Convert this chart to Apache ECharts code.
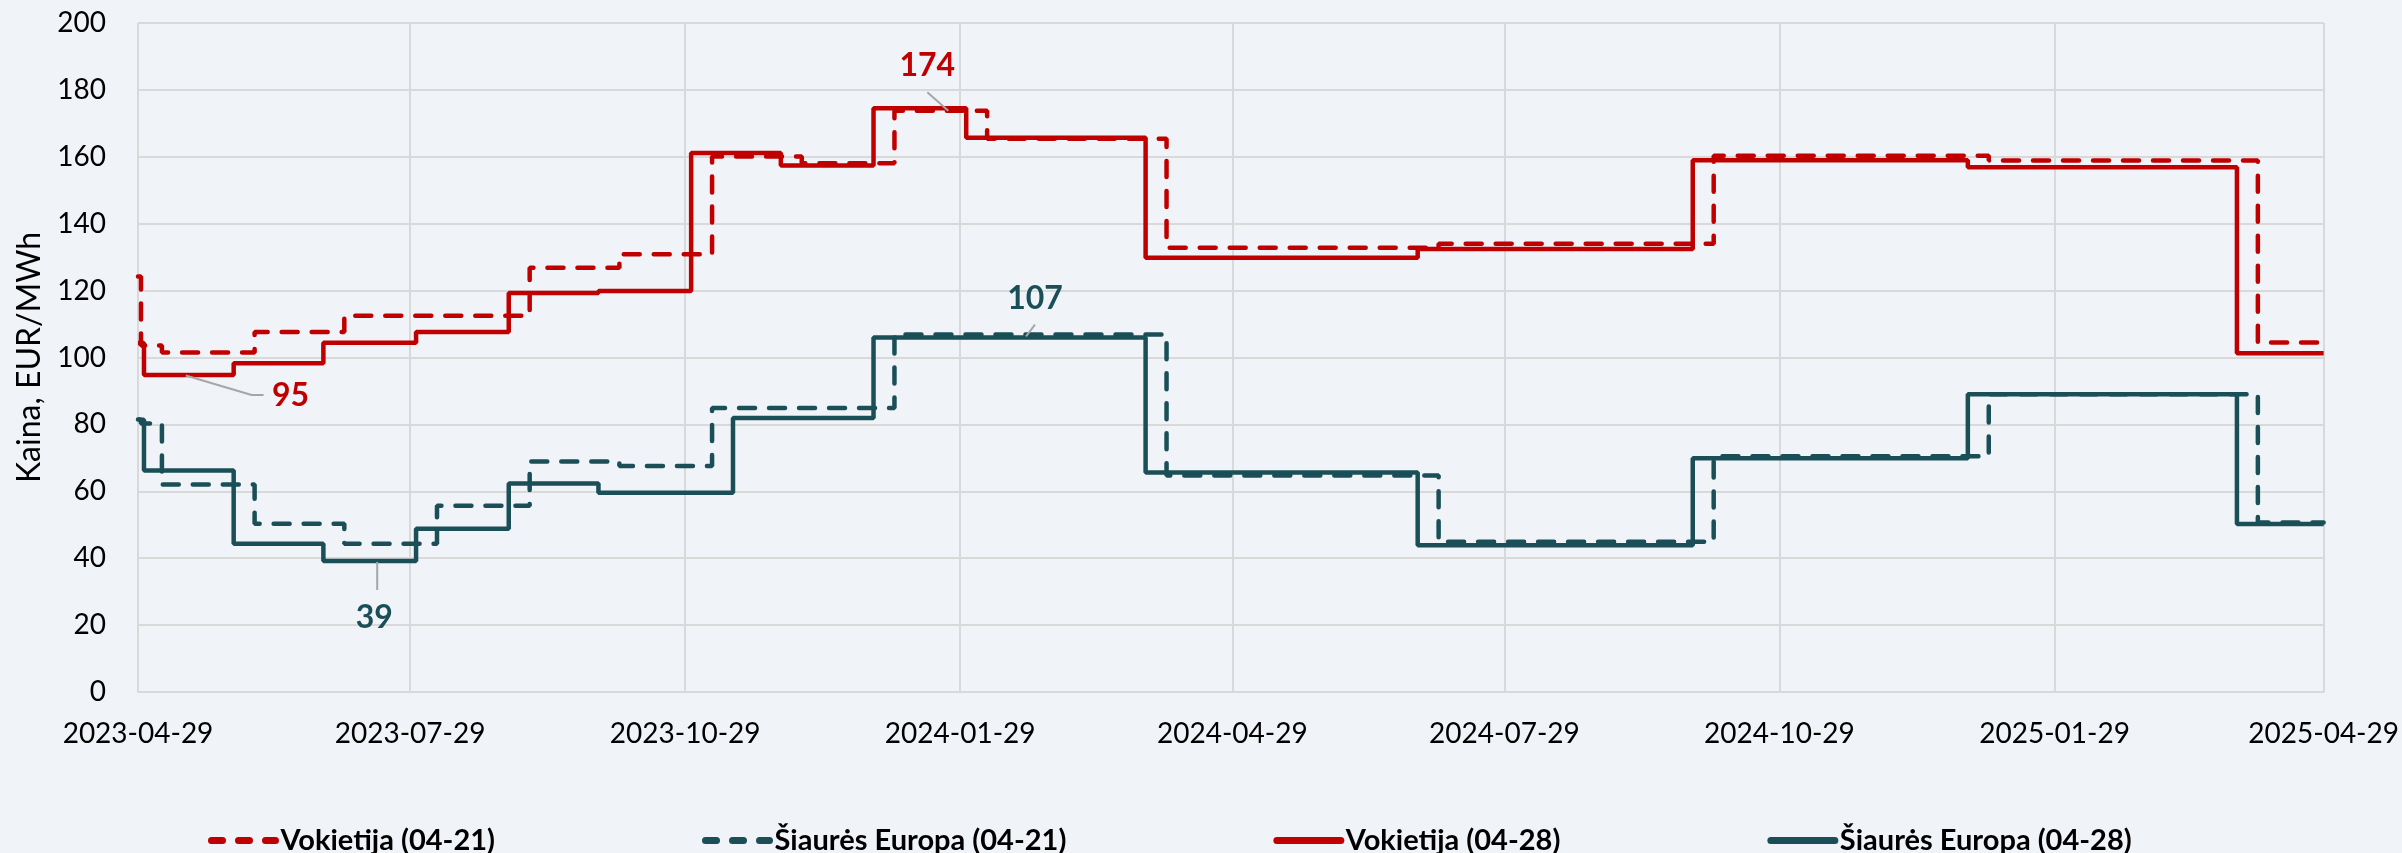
<!DOCTYPE html>
<html>
<head>
<meta charset="utf-8">
<script src="https://cdn.jsdelivr.net/npm/echarts@6/dist/echarts.min.js"></script>
<style>
    html, body { margin: 0; padding: 0; background: #f0f3f7; }
    #chart { width: 2402px; height: 853px; }
</style>
</head>
<body>
<div id="chart"></div>
<script>
// x ticks (every 3 months)
const tickDates = ['2023-04-29', '2023-07-29', '2023-10-29', '2024-01-29', '2024-04-29',
    '2024-07-29', '2024-10-29', '2025-01-29', '2025-04-29']

// Vokietija (04-21) - dashed
const deOldDates = ['2023-04-29', '2023-04-30', '2023-05-07', '2023-06-07', '2023-07-07', '2023-09-07',
    '2023-10-07', '2023-11-07', '2023-12-07', '2024-01-07', '2024-02-07', '2024-04-07', '2024-07-07',
    '2024-10-07', '2025-01-07', '2025-04-07', '2025-04-29']
const deOld = [124.2, 103.6, 101.5, 107.6, 112.5, 126.8, 130.9, 160.1, 158.1, 173.8, 165.4, 132.8, 134.0,
    160.3, 158.9, 104.5, 104.5]

// Šiaurės Europa (04-21) - dashed
const neOldDates = ['2023-04-29', '2023-04-30', '2023-05-07', '2023-06-07', '2023-07-07', '2023-08-07',
    '2023-09-07', '2023-10-07', '2023-11-07', '2024-01-07', '2024-04-07', '2024-07-07', '2024-10-07',
    '2025-01-07', '2025-04-07', '2025-04-29']
const neOld = [81.5, 80.3, 62.0, 50.3, 44.3, 55.7, 68.9, 67.6, 84.9, 106.9, 64.7, 44.9, 70.5, 89.0, 50.7, 50.7]

// Vokietija (04-28) - solid
const deNewDates = ['2023-04-29', '2023-05-01', '2023-05-31', '2023-06-30', '2023-07-31', '2023-08-31',
    '2023-09-30', '2023-10-31', '2023-11-30', '2023-12-31', '2024-01-31', '2024-03-31', '2024-06-30',
    '2024-09-30', '2024-12-31', '2025-03-31', '2025-04-29']
const deNew = [104.3, 94.8, 98.3, 104.4, 107.6, 119.3, 119.9, 161.1, 157.4, 174.5, 165.7, 129.8, 132.4,
    159.0, 156.9, 101.3, 101.3]

// Šiaurės Europa (04-28) - solid
const neNewDates = ['2023-04-29', '2023-05-01', '2023-05-31', '2023-06-30', '2023-07-31', '2023-08-31',
    '2023-09-30', '2023-11-14', '2023-12-31', '2024-03-31', '2024-06-30', '2024-09-30', '2024-12-31',
    '2025-03-31', '2025-04-29']
const neNew = [81.4, 66.2, 44.3, 39.2, 48.8, 62.3, 59.6, 81.9, 106.0, 65.6, 43.9, 69.9, 89.0, 50.2, 50.2]

const names = ['Vokietija (04-21)', 'Šiaurės Europa (04-21)', 'Vokietija (04-28)', 'Šiaurės Europa (04-28)']

const red = '#c00000'
const teal = '#1a4f57'
const font = 'Lato'

// callouts: text, leader line and label anchor in data coords
const notes = [
    { text: '95', color: red, leader: [['2023-05-15', 94.6], ['2023-06-06', 88.8], ['2023-06-10', 88.8]], at: ['2023-06-19', 88.5] },
    { text: '39', color: teal, leader: [['2023-07-18', 38.9], ['2023-07-18', 30.5]], at: ['2023-07-17', 22.2] },
    { text: '174', color: red, leader: [['2024-01-18', 179.3], ['2024-01-25', 173.8]], at: ['2024-01-18', 187.1] },
    { text: '107', color: teal, leader: [['2024-02-23', 109.8], ['2024-02-20', 106.3]], at: ['2024-02-23', 117.7] }
]

const t = d => echarts.time.parse(d).getTime()
const pairs = (d, v) => d.map((x, i) => [t(x), v[i]])

function stepLine(name, dates, values, color, dashed) {
    return {
        name: name,
        type: 'line',
        step: 'end',
        symbol: 'none',
        data: pairs(dates, values),
        lineStyle: {
            color: color,
            width: 4.5,
            type: dashed ? [16, 14] : 'solid',
            cap: dashed ? 'round' : 'butt'
        },
        itemStyle: { color: color }
    }
}

const chart = echarts.init(document.getElementById('chart'))

const tickValues = tickDates.map(t)

const option = {
    animation: false,
    backgroundColor: '#f0f3f7',
    grid: { left: 138, right: 78, top: 23, bottom: 161 },
    legend: {
        data: names.map((n, i) => ({
            name: n,
            lineStyle: i < 2 ? { width: 7, type: [11, 16], cap: 'round' } : { width: 7, type: 'solid', cap: 'round' }
        })),
        left: 203,
        top: 821,
        itemWidth: 64,
        itemHeight: 14,
        itemGap: 207,
        itemStyle: { opacity: 0 },
        textStyle: { fontFamily: font, fontSize: 29, fontWeight: 'bold', color: '#000' }
    },
    xAxis: {
        type: 'value',
        min: tickValues[0],
        max: tickValues[tickValues.length - 1],
        axisLine: { show: true, lineStyle: { color: '#d9d9d9', width: 2 } },
        axisTick: { show: false, customValues: tickValues },
        axisLabel: {
            customValues: tickValues,
            formatter: v => echarts.time.format(v, '{yyyy}-{MM}-{dd}', false),
            fontFamily: font,
            fontSize: 28,
            color: '#000',
            margin: 28
        },
        splitLine: { show: true, lineStyle: { color: '#d9d9d9', width: 2 } }
    },
    yAxis: {
        type: 'value',
        min: 0,
        max: 200,
        interval: 20,
        name: 'Kaina, EUR/MWh',
        nameLocation: 'middle',
        nameGap: 92,
        nameTextStyle: { fontFamily: font, fontSize: 32, color: '#000' },
        axisLine: { show: false },
        axisTick: { show: false },
        axisLabel: { fontFamily: font, fontSize: 28, color: '#000', margin: 32 },
        splitLine: { lineStyle: { color: '#d9d9d9', width: 2 } }
    },
    series: [
        stepLine(names[0], deOldDates, deOld, red, true),
        stepLine(names[1], neOldDates, neOld, teal, true),
        stepLine(names[2], deNewDates, deNew, red, false),
        stepLine(names[3], neNewDates, neNew, teal, false),
        ...notes.map(n => ({
            type: 'line',
            data: n.leader.map(p => [t(p[0]), p[1]]),
            symbol: 'none',
            silent: true,
            z: 5,
            lineStyle: { color: '#a6a6a6', width: 2 },
            markPoint: {
                symbol: 'circle',
                symbolSize: 0,
                data: [{ coord: [t(n.at[0]), n.at[1]], value: n.text }],
                label: {
                    show: true,
                    position: 'inside',
                    formatter: n.text,
                    color: n.color,
                    fontFamily: font,
                    fontSize: 32,
                    fontWeight: 'bold'
                }
            }
        }))
    ]
}

chart.setOption(option)
</script>
</body>
</html>
